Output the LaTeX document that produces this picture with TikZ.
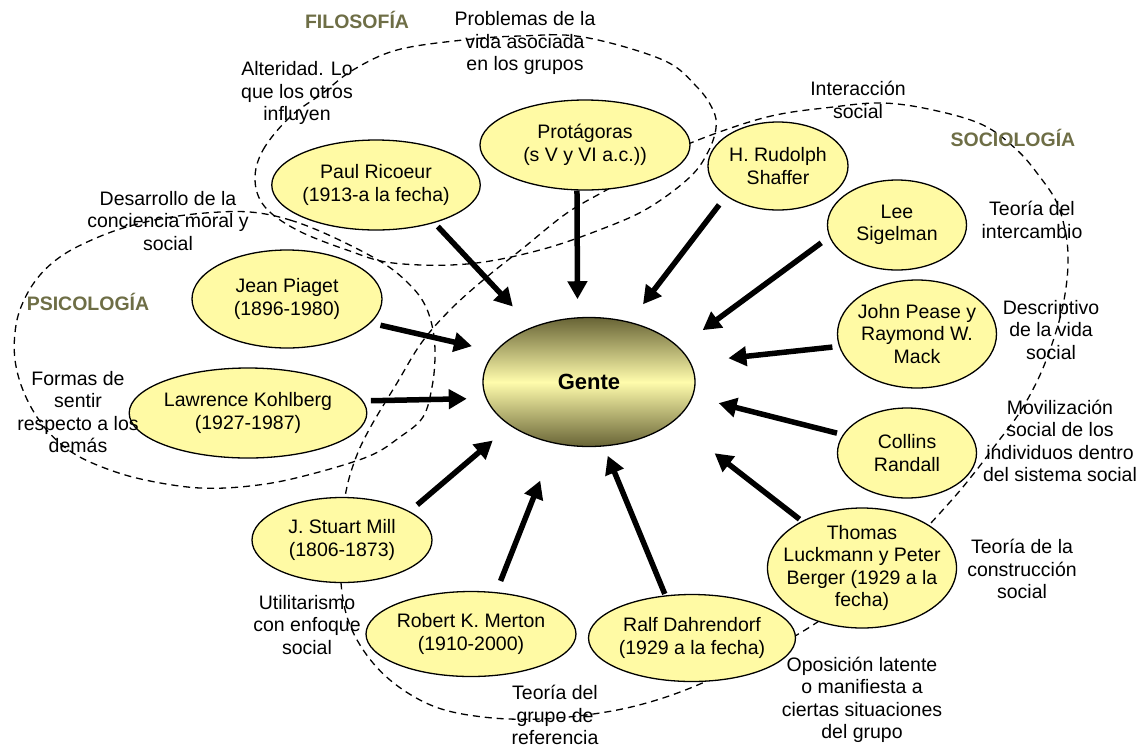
\documentclass[tikz,border=0pt]{standalone}
\usepackage{fontspec}
\setmainfont{Liberation Sans}
\usetikzlibrary{arrows.meta,shapes.geometric}

\definecolor{nodefill}{RGB}{255,250,164}
\definecolor{gdark}{RGB}{104,100,54}
\definecolor{glight}{RGB}{255,252,172}
\definecolor{areacol}{RGB}{110,110,70}

\begin{document}
\begin{tikzpicture}[x=1pt,y=-1pt,
  author/.style={ellipse, draw=black, line width=1.3pt, fill=nodefill, inner sep=0pt,
    align=center, font=\fontsize{19.5}{22.5}\selectfont},
  note/.style={align=center, inner sep=0pt, font=\fontsize{19.5}{22.5}\selectfont},
  area/.style={inner sep=0pt, text=areacol, font=\bfseries\fontsize{19.5}{22.5}\selectfont},
  field/.style={dash pattern=on 7pt off 5pt, line width=1.3pt},
  influence/.style={line width=5.5pt, -{Triangle[length=18pt,width=19pt]}},
]
\useasboundingbox (0,0) rectangle (1146,748);

% discipline areas (dashed outlines)
\draw[field] plot[smooth cycle, tension=0.6] coordinates {
  (255,180) (263,150) (290,117) (323,93) (353,70) (397,50) (463,40) (520,36)
  (583,37) (663,60) (697,87) (713,110) (716,128) (708,152) (690,177) (650,207)
  (607,227) (540,250) (467,264) (393,263) (347,250) (297,230) (265,207)};
\draw[field] plot[smooth cycle, tension=0.6] coordinates {
  (693,142) (767,117) (833,107) (883,103) (933,110) (983,125) (1017,150) (1040,177)
  (1057,203) (1066,235) (1068,265) (1064,300) (1055,335) (1040,375) (1020,412)
  (997,443) (975,472) (950,502) (905,550) (860,590) (813,625) (760,655) (700,684)
  (650,702) (600,713) (540,719) (483,717) (433,706) (390,680) (360,645) (344,605)
  (340,550) (345,497) (355,460) (370,428) (397,383) (422,342) (452,308) (488,276)
  (522,249) (567,213) (610,188) (650,164)};
\draw[field] plot[smooth cycle, tension=0.6] coordinates {
  (250,212) (290,220) (333,237) (383,263) (410,285) (425,305) (433,330) (435,357)
  (432,387) (423,417) (400,437) (367,457) (300,477) (250,486) (200,488) (150,481)
  (110,470) (73,453) (45,428) (25,395) (15,360) (16,325) (25,298) (40,275)
  (60,257) (85,243) (120,229) (160,219) (205,213)};

% area titles
\node[area] (filo) at (357,20) {FILOSOFÍA};
\node[area] (psico) at (88,302) {PSICOLOGÍA};
\node[area] (socio) at (1013,138) {SOCIOLOGÍA};

% central node
\node[ellipse, draw=black, line width=1.3pt, inner sep=0pt,
  minimum width=212pt, minimum height=129pt,
  top color=gdark, bottom color=gdark, middle color=glight,
  font=\bfseries\fontsize{22}{26}\selectfont] (gente) at (589,382) {Gente};

% authors
\node[author, minimum width=210pt, minimum height=90pt] (protag) at (585,145) {Protágoras\\(s V y VI a.c.))};
\node[author, minimum width=208pt, minimum height=90pt] (ricoeur) at (376,185) {Paul Ricoeur\\(1913-a la fecha)};
\node[author, minimum width=140pt, minimum height=88pt] (shaffer) at (778,166) {H. Rudolph\\Shaffer};
\node[author, minimum width=139pt, minimum height=90pt] (lee) at (897,225) {Lee\\Sigelman};
\node[author, inner xsep=-3pt, minimum width=159pt, minimum height=108pt] (pease) at (917,334) {John Pease y\\Raymond W.\\Mack};
\node[author, minimum width=139pt, minimum height=90pt] (collins) at (907,453) {Collins\\Randall};
\node[author, inner xsep=-12pt, inner ysep=-3pt, minimum width=189pt, minimum height=120pt] (thomas) at (862,568) {Thomas\\Luckmann y Peter\\Berger (1929 a la\\fecha)};
\node[author, minimum width=185pt, minimum height=87pt] (dahrendorf) at (692,638) {Ralf Dahrendorf\\(1929 a la fecha)};
\node[author, minimum width=178pt, minimum height=85pt] (merton) at (471,634) {Robert K. Merton\\(1910-2000)};
\node[author, minimum width=180pt, minimum height=85pt] (mill) at (342,540) {J. Stuart Mill\\(1806-1873)};
\node[author, minimum width=209pt, minimum height=90pt] (kohlberg) at (248,413) {Lawrence Kohlberg\\(1927-1987)};
\node[author, minimum width=190pt, minimum height=98pt] (piaget) at (287,299) {Jean Piaget\\(1896-1980)};

% contributions
\node[note] (n-protag) at (525,43) {Problemas de la\\vida asociada\\en los grupos};
\node[note] (n-ricoeur) at (297,93) {Alteridad. Lo\\que los otros\\influyen};
\node[note] (n-shaffer) at (858,100) {Interacción\\social};
\node[note] (n-lee) at (1032,220) {Teoría del\\intercambio};
\node[note] (n-pease) at (1051,330) {Descriptivo\\de la vida\\social};
\node[note] (n-collins) at (1060,441) {Movilización\\social de los\\individuos dentro\\del sistema social};
\node[note] (n-thomas) at (1022,569) {Teoría de la\\construcción\\social};
\node[note] (n-dahrendorf) at (862,700) {Oposición latente\\o manifiesta a\\ciertas situaciones\\del grupo};
\node[note] (n-merton) at (555,715) {Teoría del\\grupo de\\referencia};
\node[note] (n-mill) at (307,625) {Utilitarismo\\con enfoque\\social};
\node[note] (n-kohlberg) at (78,412) {Formas de\\sentir\\respecto a los\\demás};
\node[note] (n-piaget) at (168,221) {Desarrollo de la\\conciencia moral y\\social};

% influences on Gente
\draw[influence, shorten <=5pt, shorten >=28pt] (ricoeur.-33) -- (gente.136);
\draw[influence, shorten >=18pt] (protag.-100) -- (gente.100);
\draw[influence, shorten <=11pt, shorten >=22pt] (shaffer.-150) -- (gente.56);
\draw[influence, shorten <=10pt, shorten >=29pt] (lee.-170) -- (gente.21);
\draw[influence, shorten <=6.6pt, shorten >=38pt] (pease.-171) -- (gente.11);
\draw[influence, shorten <=6pt, shorten >=26.5pt] (collins.164) -- (gente.-8);
\draw[influence, shorten <=3pt, shorten >=51.7pt] (thomas.142) -- (gente.-25);
\draw[influence, shorten <=1.5pt, shorten >=10pt] (dahrendorf.122) -- (gente.-77.5);
\draw[influence, shorten <=12pt, shorten >=39.6pt] (merton.59) -- (gente.-119.5);
\draw[influence, shorten <=10pt, shorten >=22.7pt] (mill.23) -- (gente.-151);
\draw[influence, shorten <=7.7pt, shorten >=19pt] (kohlberg.6) -- (gente.-171.5);
\draw[influence, shorten <=10pt, shorten >=23.5pt] (piaget.-16) -- (gente.162);
\end{tikzpicture}
\end{document}
